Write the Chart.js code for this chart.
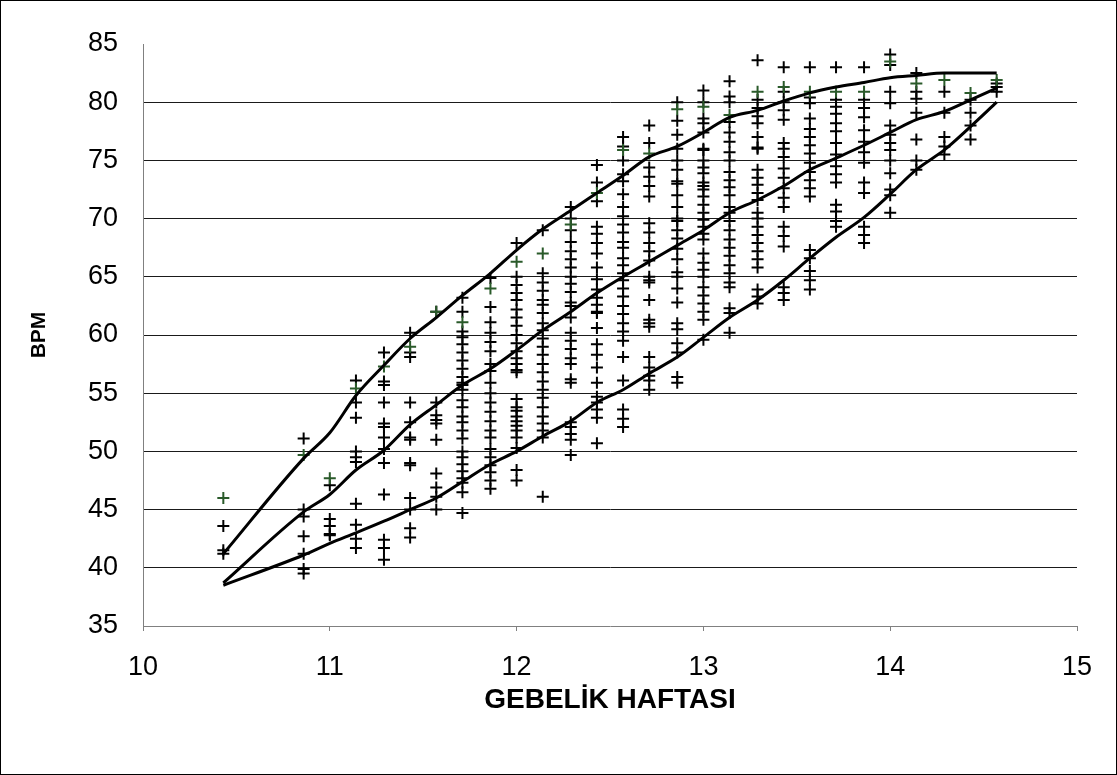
<!DOCTYPE html>
<html>
<head>
<meta charset="utf-8">
<title>BPM - Gebelik Haftası</title>
<script src="https://cdn.jsdelivr.net/npm/chart.js@4.4.1/dist/chart.umd.min.js"></script>
<style>
  html, body { margin: 0; padding: 0; background: #fff; }
  #wrap { width: 1117px; height: 775px; }
</style>
</head>
<body>
<div id="wrap"><canvas id="bpmChart" width="1117" height="775"></canvas></div>
<script>
// gestational week of each measurement column (week + day/7)
const weeks = [10.43, 10.86, 11, 11.14, 11.29, 11.43, 11.57, 11.71, 11.86, 12, 12.14, 12.29, 12.43, 12.57,
               12.71, 12.86, 13, 13.14, 13.29, 13.43, 13.57, 13.71, 13.86, 14, 14.14, 14.29, 14.43, 14.57];

// black markers, one list per week column
const bpmBlack = [
  [43.6, 41.5, 41.2],
  [51.1, 45.0, 44.4, 42.7, 41.2, 39.9, 39.5],
  [47.1, 44.2, 43.6, 42.9, 42.8],
  [56.1, 54.2, 52.9, 50.0, 49.5, 49.1, 45.5, 43.7, 42.5, 41.7],
  [58.5, 56.0, 55.7, 54.2, 52.4, 52.1, 51.2, 50.2, 49.0, 46.3, 42.4, 41.7, 40.7],
  [60.2, 58.5, 58.1, 54.2, 52.5, 51.2, 51.0, 49.0, 48.8, 46.0, 45.0, 43.4, 42.6],
  [62.0, 54.2, 53.1, 52.7, 52.4, 51.0, 48.1, 46.9, 46.1, 45.0],
  [63.2, 62.0, 60.3, 59.8, 59.2, 58.5, 57.8, 57.1, 56.4, 55.9, 55.7, 55.3, 54.4, 53.8, 53.0, 52.5,
   51.8, 51.1, 50.0, 49.5, 48.9, 48.3, 47.7, 47.3, 46.5, 44.7],
  [64.9, 62.4, 61.1, 60.2, 59.4, 58.6, 57.5, 56.9, 55.9, 55.0, 54.2, 53.4, 52.6, 51.8, 51.2, 50.2,
   49.5, 48.8, 48.2, 47.5, 46.8],
  [67.9, 65.0, 64.3, 63.6, 63.0, 62.2, 61.5, 60.8, 60.0, 59.3, 58.6, 58.0, 57.5, 57.0, 56.8, 54.5,
   53.8, 53.5, 53.0, 52.6, 52.2, 51.8, 51.2, 50.3, 48.4, 47.5],
  [69.0, 65.3, 64.5, 63.8, 63.0, 62.6, 61.9, 61.0, 60.4, 59.7, 59.0, 58.3, 57.5, 56.8, 56.0, 55.3,
   54.6, 53.8, 53.0, 52.4, 51.8, 51.2, 46.1],
  [71.0, 70.0, 69.0, 68.0, 67.2, 66.5, 65.8, 65.0, 64.4, 63.7, 62.8, 62.5, 61.5, 60.2, 59.5, 58.8,
   58.0, 57.5, 56.2, 55.9, 52.5, 52.1, 51.5, 51.0, 49.7],
  [74.6, 73.1, 71.5, 69.3, 68.7, 67.9, 67.0, 65.8, 64.8, 63.9, 63.2, 62.6, 62.0, 61.9, 60.6, 59.2,
   58.3, 57.2, 55.9, 54.7, 54.2, 53.6, 52.9, 50.7],
  [77.0, 76.2, 75.0, 73.8, 73.2, 72.1, 71.0, 70.2, 69.5, 68.8, 68.0, 67.5, 66.6, 66.0, 65.3, 64.7,
   64.0, 63.3, 62.5, 61.8, 61.0, 60.3, 59.5, 58.1, 56.1, 53.6, 52.8, 52.1],
  [78.0, 76.5, 74.4, 73.6, 72.8, 71.9, 69.6, 68.8, 67.9, 67.2, 66.4, 65.0, 64.7, 64.5, 63.0, 61.3,
   61.0, 60.7, 58.1, 57.2, 56.5, 56.1, 55.3],
  [80.0, 78.4, 77.2, 76.0, 75.0, 74.2, 73.2, 73.0, 72.0, 71.0, 70.0, 69.8, 69.0, 68.3, 67.4, 66.5,
   65.4, 65.0, 64.0, 62.8, 61.0, 60.5, 59.3, 58.5, 56.4, 55.9],
  [81.0, 80.0, 78.6, 78.2, 77.4, 76.0, 75.9, 75.0, 74.4, 73.9, 73.1, 72.8, 72.5, 71.9, 71.2, 70.5,
   69.9, 69.3, 68.7, 68.2, 67.0, 66.2, 65.6, 65.0, 64.1, 63.4, 62.7, 62.0, 61.3, 59.6],
  [81.8, 80.5, 80.0, 78.3, 77.4, 76.6, 75.7, 75.0, 74.0, 73.3, 72.7, 72.0, 71.0, 70.5, 69.8, 69.0,
   68.2, 67.5, 66.8, 66.0, 65.3, 64.5, 64.1, 62.3, 61.9, 60.2],
  [83.6, 80.2, 79.5, 78.8, 78.2, 77.0, 76.1, 76.0, 74.2, 73.5, 72.9, 72.2, 71.6, 70.5, 70.0, 69.3,
   68.6, 67.9, 67.2, 66.5, 65.8, 63.9, 63.3, 62.7],
  [83.0, 80.9, 80.0, 79.3, 78.5, 76.5, 76.0, 75.3, 74.3, 73.5, 72.6, 71.8, 71.0, 69.3, 68.5, 67.6,
   64.1, 63.6, 63.0],
  [83.0, 80.4, 79.9, 78.6, 77.7, 77.0, 76.3, 75.6, 74.8, 74.0, 73.3, 72.6, 71.9, 67.3, 66.6, 65.5,
   64.7, 63.9],
  [83.0, 80.2, 79.6, 79.0, 78.2, 77.5, 76.5, 75.5, 74.5, 73.8, 73.1, 71.2, 70.6, 69.8, 69.3],
  [83.0, 80.2, 79.5, 78.7, 77.6, 76.6, 75.7, 74.8, 73.1, 72.2, 69.3, 68.6, 67.9],
  [84.1, 83.2, 80.9, 79.9, 78.0, 77.2, 76.5, 75.9, 75.0, 73.9, 72.5, 72.0, 70.5],
  [82.5, 80.9, 80.3, 79.1, 76.8, 75.0, 74.2],
  [80.9, 79.1, 77.0, 76.2, 75.5],
  [80.2, 79.1, 78.0, 76.8],
  [81.6, 81.3, 80.9]
];

// dark green markers, one list per week column
const bpmGreen = [
  [46.0], [49.7], [47.7], [55.4], [57.3], [59.0], [62.0], [61.1], [64.0], [66.3], [67.0], [69.5],
  [72.2], [75.9], [75.6], [79.4], [79.6], [78.9], [80.9], [81.3], [80.9], [80.9], [80.9], [83.5],
  [81.6], [81.9], [80.8], [81.9]
];

// reference curves, sampled at the same week columns
const upperCurve = [41.2, 49.4, 51.6, 54.8, 57.4, 59.7, 61.5, 63.4, 65.3, 67.3, 69.1, 70.7, 72.2, 73.7,
                    75.3, 76.2, 77.4, 78.7, 79.3, 80.1, 80.8, 81.3, 81.7, 82.1, 82.3, 82.5, 82.5, 82.5];
const midCurve   = [38.7, 44.8, 46.3, 48.4, 50.1, 52.3, 54.0, 55.7, 57.1, 58.7, 60.4, 62.0, 63.6, 65.0,
                    66.3, 67.7, 69.0, 70.5, 71.6, 72.8, 74.2, 75.2, 76.3, 77.4, 78.5, 79.2, 80.2, 81.2];
const lowerCurve = [38.5, 41.1, 42.1, 43.0, 44.0, 45.0, 46.0, 47.4, 48.9, 50.0, 51.3, 52.6, 54.2, 55.3,
                    56.7, 58.1, 59.8, 61.5, 63.0, 64.7, 66.6, 68.4, 70.1, 72.1, 74.2, 75.9, 77.9, 80.0];

const yTicks = [35, 40, 45, 50, 55, 60, 65, 70, 75, 80, 85];
const xTicks = [10, 11, 12, 13, 14, 15];

// flatten column lists into {x, y} points
function toPoints(cols) {
  const pts = [];
  cols.forEach((vals, i) => vals.forEach(v => pts.push({ x: weeks[i], y: v })));
  return pts;
}
function curvePoints(vals) {
  return vals.map((v, i) => ({ x: weeks[i], y: v }));
}

const FONT = 'Arial, "Liberation Sans", sans-serif';

// frame round the whole picture + white background
const framePlugin = {
  id: 'frame',
  beforeDraw(chart) {
    const c = chart.ctx;
    c.save();
    c.fillStyle = '#fff';
    c.fillRect(0, 0, chart.width, chart.height);
    c.restore();
  },
  afterDraw(chart) {
    const c = chart.ctx;
    c.save();
    c.strokeStyle = '#000';
    c.lineWidth = 1;
    c.strokeRect(0.5, 0.5, chart.width - 1, chart.height - 1);
    c.restore();
  }
};

const curveStyle = {
  type: 'line',
  borderColor: '#000',
  borderWidth: 3,
  pointRadius: 0,
  tension: 0.4,
  cubicInterpolationMode: 'monotone',
  fill: false,
  order: 0
};

new Chart(document.getElementById('bpmChart'), {
  type: 'scatter',
  data: {
    datasets: [
      Object.assign({ label: 'upper', data: curvePoints(upperCurve) }, curveStyle),
      Object.assign({ label: 'mid', data: curvePoints(midCurve) }, curveStyle),
      Object.assign({ label: 'lower', data: curvePoints(lowerCurve) }, curveStyle),
      {
        label: 'BPM',
        data: toPoints(bpmBlack),
        pointStyle: 'cross',
        pointRadius: 6,
        pointBorderWidth: 2,
        borderColor: '#000',
        backgroundColor: '#000',
        order: 2
      },
      {
        label: 'BPM (2)',
        data: toPoints(bpmGreen),
        pointStyle: 'cross',
        pointRadius: 6,
        pointBorderWidth: 2,
        borderColor: '#2a5a2a',
        backgroundColor: '#2a5a2a',
        order: 1
      }
    ]
  },
  options: {
    responsive: false,
    animation: false,
    layout: { padding: { top: 44, right: 40, left: 0, bottom: 0 } },
    plugins: { legend: { display: false }, tooltip: { enabled: false } },
    scales: {
      x: {
        type: 'linear',
        min: 10,
        max: 15,
        afterBuildTicks: axis => { axis.ticks = xTicks.map(v => ({ value: v })); },
        afterFit: axis => { axis.height = 149; },
        border: { color: '#808080', width: 1 },
        grid: { drawOnChartArea: false, drawTicks: true, tickLength: 5, color: '#808080' },
        ticks: { color: '#000', font: { family: FONT, size: 27 }, padding: 20, maxRotation: 0 },
        title: {
          display: true,
          text: 'GEBELİK HAFTASI',
          color: '#000',
          font: { family: FONT, size: 28, weight: 'bold' },
          padding: { top: 0, bottom: 58 }
        }
      },
      y: {
        type: 'linear',
        min: 35,
        max: 85,
        afterBuildTicks: axis => { axis.ticks = yTicks.map(v => ({ value: v })); },
        afterFit: axis => { axis.width = 143; },
        border: { color: '#808080', width: 1 },
        grid: {
          drawTicks: false,
          color: ctx => (ctx.tick && (ctx.tick.value === 85 || ctx.tick.value === 35)) ? 'rgba(0,0,0,0)' : '#1a1a1a',
          lineWidth: 1
        },
        ticks: { color: '#000', font: { family: FONT, size: 27 }, padding: 25 },
        title: {
          display: true,
          text: 'BPM',
          color: '#000',
          font: { family: FONT, size: 21, weight: 'bold' },
          padding: { top: 27, bottom: 0 }
        }
      }
    }
  },
  plugins: [framePlugin]
});
</script>
</body>
</html>
